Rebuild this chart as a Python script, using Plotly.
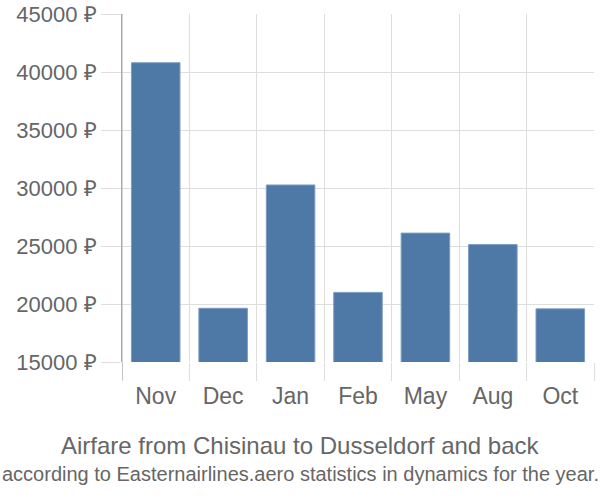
import plotly.graph_objects as go

months = ["Nov", "Dec", "Jan", "Feb", "May", "Aug", "Oct"]
prices = [40800, 19630, 30260, 21000, 26110, 25120, 19580]
y_ticks = [15000, 20000, 25000, 30000, 35000, 40000, 45000]
y_tick_labels = [f"{v} ₽" for v in y_ticks]
title_text = "Airfare from Chisinau to Dusseldorf and back"
subtitle_text = "according to Easternairlines.aero statistics in dynamics for the year."

GRID = "#dedede"
TEXT = "#666666"
FONT = "Liberation Sans, Arial, sans-serif"

fig = go.Figure(go.Bar(
    x=months, y=prices,
    base=0,
    marker=dict(color="#4e79a7", line=dict(color="#7d9cc4", width=1)),
))

L, R, T, B = 122, 6, 14, 137.5
H = 500 - T - B

fig.update_layout(
    width=600, height=500,
    margin=dict(l=L, r=R, t=T, b=B, pad=0, autoexpand=False),
    paper_bgcolor="white", plot_bgcolor="white",
    bargap=0.28,
    showlegend=False,
    font=dict(family=FONT, color=TEXT),
    xaxis=dict(
        type="category", categoryorder="array", categoryarray=months,
        range=[-0.5, len(months) - 0.5],
        tickson="boundaries",
        ticks="outside", ticklen=18, tickcolor=GRID, tickwidth=1,
        ticklabelstandoff=18,
        showgrid=True, gridcolor=GRID, gridwidth=1,
        showline=False, zeroline=False, automargin=False,
        tickfont=dict(size=23, color=TEXT, family=FONT),
    ),
    yaxis=dict(
        range=[15000, 45000],
        tickvals=y_ticks, ticktext=y_tick_labels,
        ticks="outside", ticklen=20, tickcolor=GRID, tickwidth=1,
        showgrid=True, gridcolor=GRID, gridwidth=1,
        showline=True, linecolor="#aaaaaa", linewidth=1,
        zeroline=False, automargin=False,
        tickfont=dict(size=22, color=TEXT, family=FONT),
    ),
    shapes=[dict(
        type="line", xref="x", yref="paper",
        x0=-0.5, x1=-0.5, y0=-18 / H, y1=1,
        line=dict(color="#aaaaaa", width=1), layer="above",
    )],
    annotations=[
        dict(text=title_text, xref="paper", yref="paper",
             x=(300 - L) / (600 - L - R), y=(362.5 - 446) / H,
             xanchor="center", yanchor="middle", showarrow=False,
             font=dict(size=24, color=TEXT, family=FONT)),
        dict(text=subtitle_text, xref="paper", yref="paper",
             x=(300 - L) / (600 - L - R), y=(362.5 - 475) / H,
             xanchor="center", yanchor="middle", showarrow=False,
             font=dict(size=20, color=TEXT, family=FONT)),
    ],
)

fig.write_html("out.html")
